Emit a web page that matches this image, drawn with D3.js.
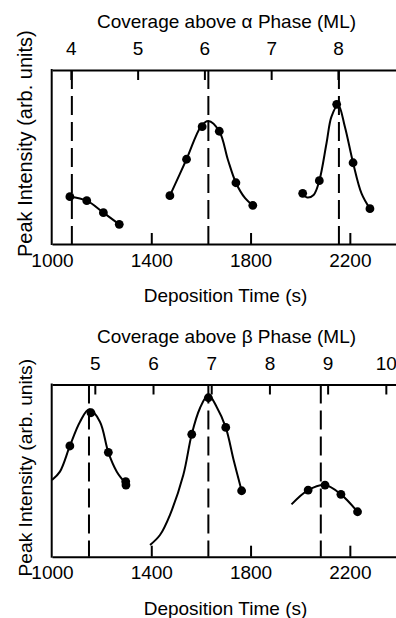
<!DOCTYPE html>
<html>
  <head>
    <meta charset="utf-8">
    <title>Peak Intensity vs Deposition Time</title>
    <script src="https://d3js.org/d3.v7.min.js"></script>
  </head>
  <body style="margin:0;background:#fff">
<style>
  text { font-family: "Liberation Sans", Arial, Helvetica, sans-serif; fill: #000; }
  .axis path, .axis line { stroke: #000; stroke-width: 2; }
  .fit { fill: none; stroke: #000; stroke-width: 2; }
  .marker { stroke: #000; stroke-width: 2; stroke-dasharray: 19,7; }
</style>
<script>

  // deposition time axis (s)
  var timeTicks = [1000, 1400, 1800, 2200];

  // coverage axes: seconds per monolayer and ticks shown
  var alphaSecPerML = 269,
      betaSecPerML = 234.5;
  var alphaCovTicks = [4, 5, 6, 7, 8],
      betaCovTicks = [5, 6, 7, 8, 9, 10];

  // dashed markers (deposition time of peaks)
  var alphaPeakTimes = [1080, 1630, 2156],
      betaPeakTimes = [1149, 1630, 2083];

  // measured points [time, intensity]
  var alphaRun1 = [[1072, 27.2], [1140, 24.9], [1207, 18.0], [1271, 11.3]];
  var alphaRun2 = [[1475, 27.8], [1542, 48.7], [1605, 67.4], [1674, 64.8], [1741, 35.2], [1809, 22.2]];
  var alphaRun3 = [[2010, 29.1], [2077, 36.4], [2147, 80.3], [2213, 46.7], [2281, 20.3]];

  var betaRun1 = [[1072, 64.3], [1157, 83.6], [1227, 60.6], [1297, 43.6], [1298, 41.6]];
  var betaRun2 = [[1563, 71.1], [1630, 92.3], [1700, 75.1], [1764, 38.3]];
  var betaRun3 = [[2032, 38.7], [2100, 41.6], [2164, 36.2], [2231, 26.1]];

  // fitted curves
  var alphaFit1 = [[1072, 27.2], [1140, 24.9], [1207, 18.0], [1271, 11.3]];
  var alphaFit2 = [[1475, 27.8], [1542, 48.7], [1600, 67.5], [1630, 70.7], [1674, 64.8], [1709, 48.3],
                   [1741, 35.2], [1778, 26.3], [1809, 22.2]];
  var alphaFit3 = [[2010, 29.1], [2026, 26.8], [2054, 28.2], [2077, 36.4], [2106, 57.9], [2126, 73.2],
                   [2153, 79.9], [2180, 67.4], [2213, 46.7], [2247, 29.1], [2281, 20.3]];

  var betaFit1 = [[1000, 44.5], [1032, 49.4], [1072, 64.3], [1113, 78.4], [1150, 85.6], [1193, 78.4],
                  [1227, 60.6], [1261, 49.4], [1297, 42.6]];
  var betaFit2 = [[1395, 6.8], [1435, 12.6], [1475, 24.2], [1529, 47.4], [1563, 71.1], [1596, 86.2],
                  [1630, 93.9], [1663, 87.1], [1700, 75.1], [1732, 56], [1764, 38.3]];
  var betaFit3 = [[1965, 30.4], [2032, 38.7], [2100, 41.6], [2164, 36.2], [2231, 26.1]];

  var w = 396, h = 618;

  var svg = d3.select("body").append("svg")
    .attr("width", w)
    .attr("height", h);

  var x = d3.scaleLinear().domain([1000, 2390]).range([52, 397]);

  var panels = [
    {title: "Coverage above \u03b1 Phase (ML)", top: 70, bottom: 244, rate: alphaSecPerML, covTicks: alphaCovTicks,
     peaks: alphaPeakTimes, runs: [alphaRun1, alphaRun2, alphaRun3], fits: [alphaFit1, alphaFit2, alphaFit3],
     labelSize: 20, labelStart: 257},
    {title: "Coverage above \u03b2 Phase (ML)", top: 384.5, bottom: 556.7, rate: betaSecPerML, covTicks: betaCovTicks,
     peaks: betaPeakTimes, runs: [betaRun1, betaRun2, betaRun3], fits: [betaFit1, betaFit2, betaFit3],
     labelSize: 19.2, labelStart: 576.5}
  ];

  panels.forEach(function(p) {
    var y = d3.scaleLinear().domain([0, 100]).range([p.bottom, p.top]);
    var cov = d3.scaleLinear()
      .domain([x.domain()[0] / p.rate, x.domain()[1] / p.rate])
      .range(x.range());

    var g = svg.append("g");

    // dashed peak markers
    g.selectAll("line.marker")
      .data(p.peaks)
      .enter().append("line")
      .attr("class", "marker")
      .attr("x1", function(d) { return x(d); })
      .attr("x2", function(d) { return x(d); })
      .attr("y1", y(100))
      .attr("y2", y(0));

    // bottom axis
    var bx = g.append("g")
      .attr("class", "axis")
      .attr("transform", "translate(0," + p.bottom + ")")
      .call(d3.axisBottom(x).tickValues(timeTicks).tickSizeInner(-11).tickSizeOuter(0).tickFormat(d3.format("d")));
    bx.selectAll(".tick line").filter(function(d) { return d === 1000; }).remove();
    bx.selectAll("text").attr("y", 22.7).attr("dy", 0).style("font-size", "19px").attr("font-family", null);

    // top axis
    var tx = g.append("g")
      .attr("class", "axis")
      .attr("transform", "translate(0," + p.top + ")")
      .call(d3.axisTop(cov).tickValues(p.covTicks).tickSizeInner(-10).tickSizeOuter(0).tickFormat(d3.format("d")));
    tx.selectAll("text").attr("y", -15).attr("dy", 0).style("font-size", "19px").attr("font-family", null);

    // left frame
    g.append("line")
      .attr("x1", x(1000) - 0.3).attr("x2", x(1000) - 0.3)
      .attr("y1", p.top - 1).attr("y2", p.bottom + 1)
      .attr("stroke", "#000").attr("stroke-width", 2);

    // fitted curves
    var line = d3.line()
      .x(function(d) { return x(d[0]); })
      .y(function(d) { return y(d[1]); })
      .curve(d3.curveCatmullRom.alpha(0.5));

    g.selectAll("path.fit")
      .data(p.fits)
      .enter().append("path")
      .attr("class", "fit")
      .attr("d", line);

    // data points
    g.selectAll("g.run")
      .data(p.runs)
      .enter().append("g")
      .attr("class", "run")
      .selectAll("circle")
      .data(function(d) { return d; })
      .enter().append("circle")
      .attr("cx", function(d) { return x(d[0]); })
      .attr("cy", function(d) { return y(d[1]); })
      .attr("r", 4.4)
      .attr("fill", "#000");

    // titles
    g.append("text")
      .attr("x", 226.5)
      .attr("y", p.top - 42)
      .attr("text-anchor", "middle")
      .style("font-size", "19px")
      .text(p.title);

    g.append("text")
      .attr("x", 225.5)
      .attr("y", p.bottom + 58)
      .attr("text-anchor", "middle")
      .style("font-size", "19px")
      .text("Deposition Time (s)");

    g.append("text")
      .attr("transform", "translate(31.5," + p.labelStart + ") rotate(-90)")
      .attr("text-anchor", "start")
      .style("font-size", p.labelSize + "px")
      .text("Peak Intensity (arb. units)");
  });

</script>
  </body>
</html>
